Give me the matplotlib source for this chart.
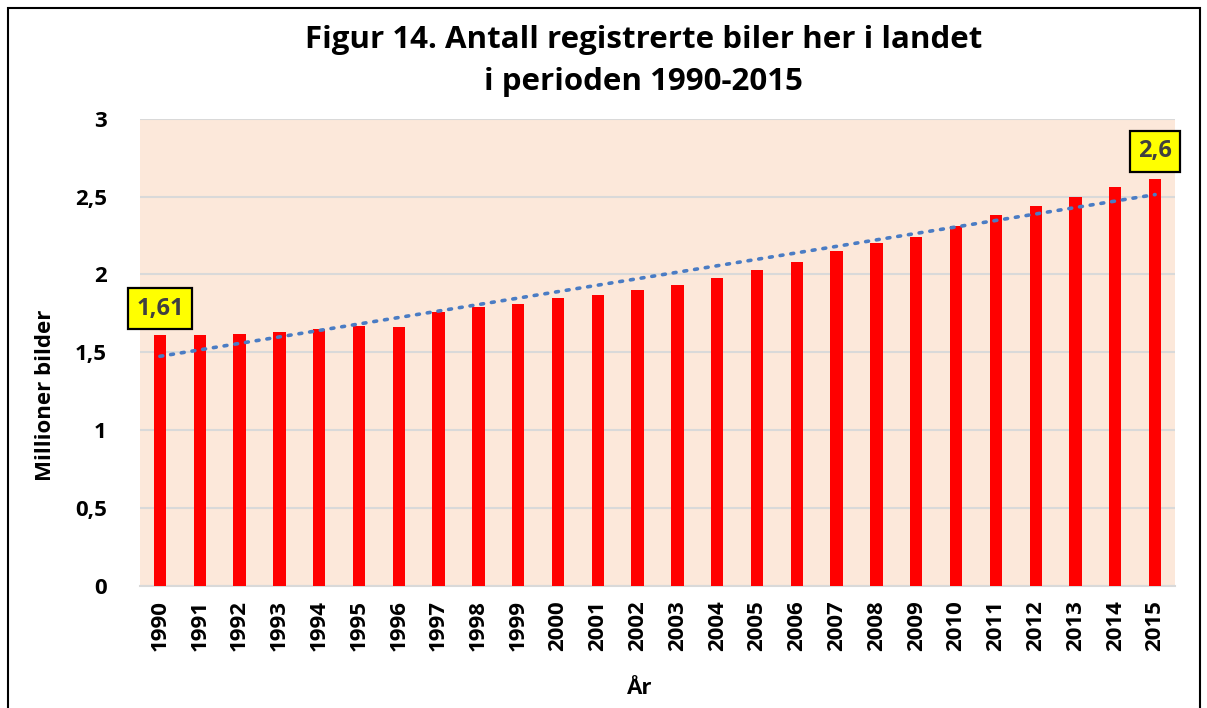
import numpy as np
import matplotlib.pyplot as plt
from matplotlib.patches import Rectangle

# Registered cars in Norway, millions
years = [str(y) for y in range(1990, 2016)]
cars = [1.61, 1.61, 1.62, 1.63, 1.65, 1.67, 1.66, 1.76, 1.79, 1.81,
        1.85, 1.87, 1.90, 1.93, 1.98, 2.03, 2.08, 2.15, 2.20, 2.24,
        2.31, 2.38, 2.44, 2.50, 2.56, 2.61]
label_first = '1,61'
label_last = '2,6'

plt.rcParams['font.family'] = ['Open Sans', 'DejaVu Sans']

fig = plt.figure(figsize=(12.07, 7.08), dpi=100)
ax = fig.add_axes([0.116, 0.1723, 0.8575, 0.66])

x = np.arange(len(years))
ax.set_facecolor('#FCE8DA')
ax.bar(x, cars, width=0.31, color='#FF0000', zorder=3)

# linear trendline
k, m = np.polyfit(x, cars, 1)
ax.plot(x, k * x + m, linestyle=(0, (0.8, 2.2)), color='#4A7CC4',
        linewidth=2.6, dash_capstyle='round', zorder=4)

ax.set_xlim(-0.5, len(years) - 0.5)
ax.set_ylim(0, 3)
ax.set_yticks([0, 0.5, 1, 1.5, 2, 2.5, 3])
ax.set_yticklabels(['0', '0,5', '1', '1,5', '2', '2,5', '3'],
                   fontsize=16, fontweight='bold')
ax.set_xticks(x)
ax.set_xticklabels(years, rotation=90, fontsize=16, fontweight='bold')
ax.tick_params(axis='x', length=0, pad=10)
ax.tick_params(axis='y', length=0, pad=24)
ax.grid(axis='y', color='#D9D9D9', linewidth=1.5, zorder=1)
ax.set_axisbelow(True)
for s in ['top', 'right', 'left']:
    ax.spines[s].set_visible(False)
ax.spines['bottom'].set_color('#D9D9D9')
ax.spines['bottom'].set_linewidth(1.5)

box = dict(boxstyle='square,pad=0.35', facecolor='#FFFF00', edgecolor='black', linewidth=1.6)
ax.text(0, 1.78, label_first, ha='center', va='center', fontsize=17,
        fontweight='bold', color='#404040', bbox=box, zorder=5)
ax.text(len(years) - 1, 2.79, label_last, ha='center', va='center', fontsize=17,
        fontweight='bold', color='#404040', bbox=box, zorder=5)

fig.text(0.533, 0.943, 'Figur 14. Antall registrerte biler her i landet',
         ha='center', va='center', fontsize=22.5, fontweight='bold')
fig.text(0.533, 0.884, 'i perioden 1990-2015', ha='center', va='center',
         fontsize=22.5, fontweight='bold')
fig.text(0.0375, 0.442, 'Millioner bilder', rotation=90, ha='center', va='center',
         fontsize=16, fontweight='bold')
fig.text(0.53, 0.028, 'År', ha='center', va='center', fontsize=16, fontweight='bold')

fig.patches.append(Rectangle((8 / 1207, -0.05), 1192 / 1207, 1.05 - 8 / 708,
                             transform=fig.transFigure, fill=False,
                             edgecolor='black', linewidth=1.5))

fig.savefig('out.png', dpi=100)
